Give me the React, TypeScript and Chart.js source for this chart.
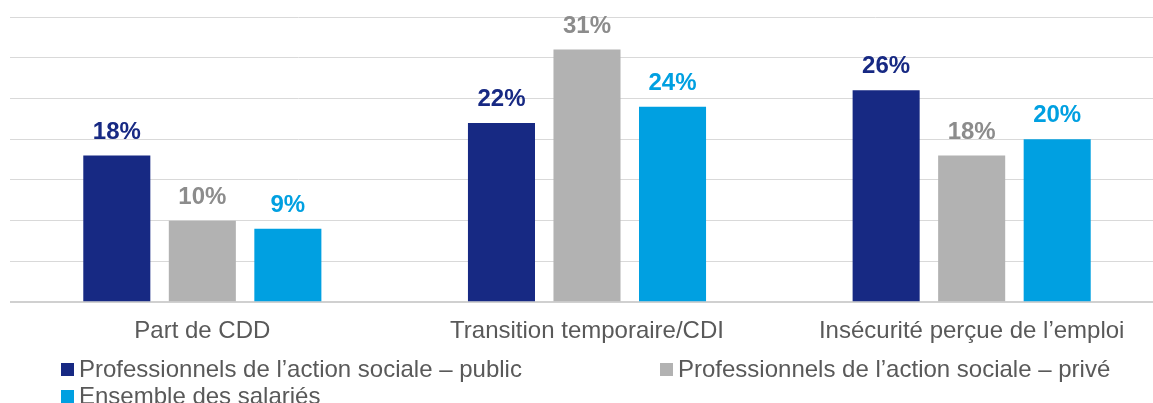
import React, { useEffect, useRef } from "react";
import { Chart, registerables } from "chart.js";

Chart.register(...registerables);

const categories = ["Part de CDD", "Transition temporaire/CDI", "Insécurité perçue de l’emploi"];
const seriesNames = [
  "Professionnels de l’action sociale – public",
  "Professionnels de l’action sociale – privé",
  "Ensemble des salariés",
];
const publicValues = [18, 22, 26];
const priveValues = [10, 31, 18];
const ensembleValues = [9, 24, 20];
const barColors = ["#172983", "#b2b2b2", "#00a0e1"];
const labelColors = ["#172983", "#8c8c8c", "#00a0e1"];

const FONT = "'Liberation Sans', Arial, sans-serif";

const valueLabels = {
  id: "valueLabels",
  afterDatasetsDraw(chart: any) {
    const ctx = chart.ctx;
    ctx.save();
    ctx.font = `bold 24px ${FONT}`;
    ctx.textAlign = "center";
    ctx.textBaseline = "alphabetic";
    chart.data.datasets.forEach((ds: any, i: number) => {
      const meta = chart.getDatasetMeta(i);
      meta.data.forEach((bar: any, j: number) => {
        ctx.fillStyle = labelColors[i];
        ctx.fillText(`${ds.data[j]}%`, bar.x, bar.y - 17);
      });
    });
    ctx.restore();
  },
};

const customLegend = {
  id: "customLegend",
  afterDraw(chart: any) {
    const ctx = chart.ctx;
    const slots = [
      { x: 61, y: 363 },
      { x: 660, y: 363 },
      { x: 61, y: 390 },
    ];
    ctx.save();
    ctx.font = `24px ${FONT}`;
    ctx.textBaseline = "middle";
    ctx.textAlign = "left";
    seriesNames.forEach((name, i) => {
      const s = slots[i];
      ctx.fillStyle = barColors[i];
      ctx.fillRect(s.x, s.y, 13, 13);
      ctx.fillStyle = "#595959";
      ctx.fillText(name, s.x + 18, s.y + 7.5);
    });
    ctx.restore();
  },
};

export default function App() {
  const ref = useRef<HTMLCanvasElement>(null);
  useEffect(() => {
    document.body.style.margin = "0";
    const chart = new Chart(ref.current!, {
      type: "bar",
      data: {
        labels: categories,
        datasets: [publicValues, priveValues, ensembleValues].map((d, i) => ({
          label: seriesNames[i],
          data: d,
          backgroundColor: barColors[i],
          barPercentage: 0.784,
          categoryPercentage: 0.667,
        })),
      },
      options: {
        animation: false,
        responsive: false,
        maintainAspectRatio: false,
        layout: { padding: { left: 10, right: 0, top: 17, bottom: 42 } },
        plugins: { legend: { display: false }, tooltip: { enabled: false } },
        scales: {
          x: {
            grid: { display: false, drawTicks: false },
            border: { display: false },
            ticks: { color: "#595959", font: { family: FONT, size: 24 }, padding: 15 },
          },
          y: {
            min: 0,
            max: 35,
            ticks: { display: false, stepSize: 5 },
            grid: {
              color: (c: any) => (c.tick && c.tick.value === 0 ? "#d0d0d0" : "#d9d9d9"),
              lineWidth: (c: any) => (c.tick && c.tick.value === 0 ? 2 : 1),
              drawTicks: false,
            },
            border: { display: false },
          },
        },
      },
      plugins: [valueLabels, customLegend],
    });
    return () => chart.destroy();
  }, []);
  return (
    <div style={{ width: 1153, height: 403, overflow: "hidden", position: "relative", background: "#fff" }}>
      <canvas ref={ref} width={1164} height={403} style={{ display: "block" }} />
    </div>
  );
}
